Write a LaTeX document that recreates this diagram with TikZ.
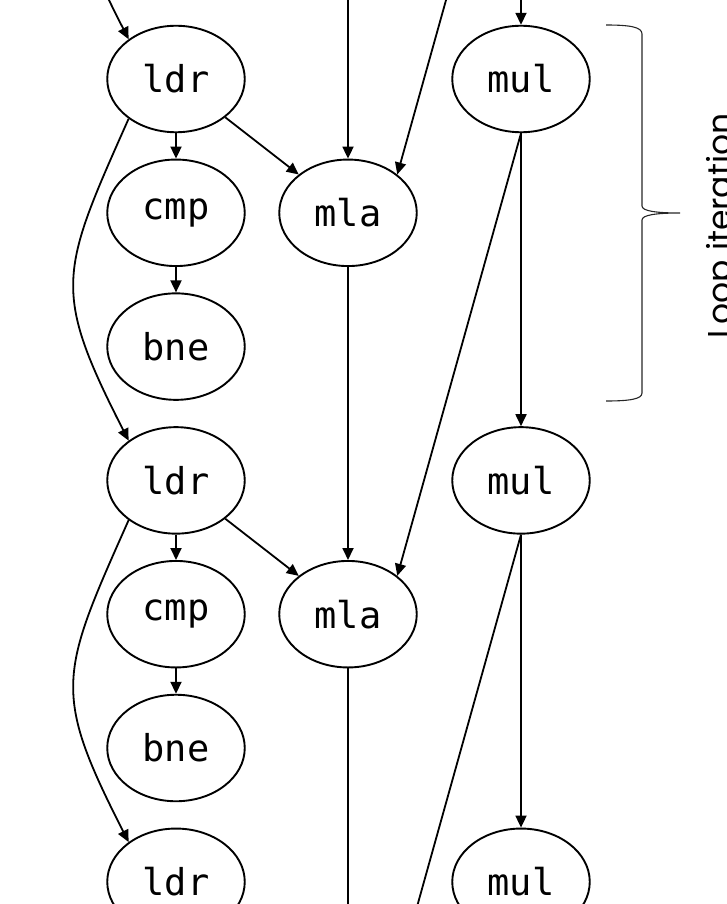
\documentclass[tikz,border=0pt]{standalone}
\usepackage{fontspec}
\newfontfamily\monof{DejaVu Sans Mono}
\newfontfamily\labf{Poppins}
\usetikzlibrary{arrows.meta,shapes.geometric}
\begin{document}
\begin{tikzpicture}[x=1pt,y=1pt,
  op/.style={ellipse,draw,line width=1.9pt,minimum width=137.5pt,minimum height=106.5pt,inner sep=0pt,font=\monof\fontsize{37}{40}\selectfont},
  edge/.style={line width=1.8pt,-{Triangle[length=12pt,width=11pt]}},
  loopedge/.style={edge,out=-114,in=117,looseness=1.35},
  bracepath/.style={line width=1.1pt,black!85},
  lab/.style={rotate=90,anchor=base,inner sep=0pt,font=\labf\fontsize{33}{36}\selectfont}
  ]
\useasboundingbox (0,0) rectangle (726,-904);
\clip (0,0) rectangle (726,-904);
% nodes outside the visible frame (no visible text)
\node[op] (ldr0) at (176,322.4) {};
\node[op] (bne0) at (176,54.8) {};
\node[op] (mla0) at (348,188.6) {};
\node[op] (mla3) at (348,-1015.6) {};
\node[op] (mul0) at (521,322.4) {};
% column 1
\node[op] (ldr1) at (176,-79) {ldr};
\node[op] (cmp1) at (176,-212.8) {cmp};
\node[op] (bne1) at (176,-346.6) {bne};
\node[op] (ldr2) at (176,-480.4) {ldr};
\node[op] (cmp2) at (176,-614.2) {cmp};
\node[op] (bne2) at (176,-748) {bne};
\node[op] (ldr3) at (176,-881.8) {ldr};
% column 2
\node[op] (mla1) at (348,-212.8) {mla};
\node[op] (mla2) at (348,-614.2) {mla};
% column 3
\node[op] (mul1) at (521,-79) {mul};
\node[op] (mul2) at (521,-480.4) {mul};
\node[op] (mul3) at (521,-881.8) {mul};
% edges
\draw[loopedge] (ldr0.-140) to (ldr1.140);
\draw[loopedge] (ldr1.-140) to (ldr2.140);
\draw[loopedge] (ldr2.-140) to (ldr3.140);
\draw[edge] (ldr1) -- (cmp1);
\draw[edge] (cmp1) -- (bne1);
\draw[edge] (ldr1) -- (mla1);
\draw[edge] (ldr2) -- (cmp2);
\draw[edge] (cmp2) -- (bne2);
\draw[edge] (ldr2) -- (mla2);
\draw[edge] (mla0) -- (mla1);
\draw[edge] (mla1) -- (mla2);
\draw[edge] (mla2) -- (mla3);
\draw[edge] (mul0) -- (mul1);
\draw[edge] (mul1) -- (mul2);
\draw[edge] (mul2) -- (mul3);
\draw[edge] (mul0.south) -- (mla1.north east);
\draw[edge] (mul1.south) -- (mla2.north east);
\draw[edge] (mul2.south) -- (mla3.north east);
% brace
\draw[bracepath] (606,-25) .. controls (630,-25) and (642,-27) .. (642,-34)
  -- (642,-206) .. controls (642,-211) and (656,-213) .. (680,-213)
  .. controls (656,-213) and (642,-215) .. (642,-220)
  -- (642,-393) .. controls (642,-399) and (630,-401) .. (606,-401);
\node[lab] (looplab) at (731,-226) {Loop iteration};
\end{tikzpicture}
\end{document}
